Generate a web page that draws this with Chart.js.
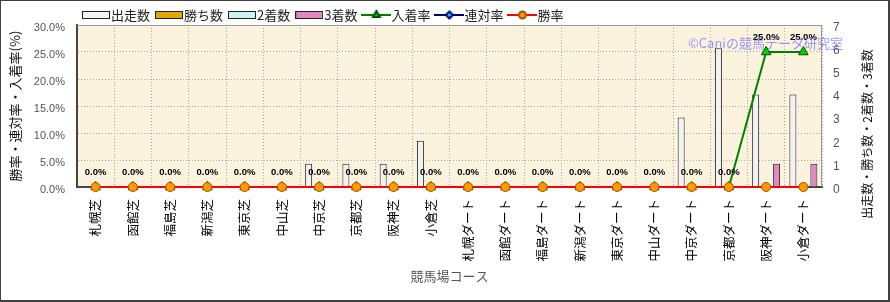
<!DOCTYPE html>
<html>
<head>
<meta charset="utf-8">
<script src="https://cdn.jsdelivr.net/npm/chart.js@4.4.0/dist/chart.umd.min.js"></script>
<style>
  html, body { margin: 0; padding: 0; background: #fff; }
  #frame { position: relative; width: 890px; height: 302px; box-sizing: border-box;
           border-style: solid; border-color: #404040; border-width: 1px 2px 2px 1px; }
  #wrap { position: absolute; left: 0; top: 0; width: 887px; height: 299px; }
  #mark { position: absolute; left: 687px; top: 34px; font: 13px 'Noto Sans CJK JP';
          line-height: 15px; color: rgba(110, 110, 255, 0.7); white-space: nowrap; }
</style>
</head>
<body>
<div id="frame">
  <div id="wrap"><canvas id="mycanvas"></canvas></div>
  <div id="mark">©Caniの競馬データ研究室</div>
</div>
<script>
// courses (x axis)
var courses = ['札幌芝', '函館芝', '福島芝', '新潟芝', '東京芝', '中山芝', '中京芝', '京都芝', '阪神芝', '小倉芝',
               '札幌ダート', '函館ダート', '福島ダート', '新潟ダート', '東京ダート', '中山ダート', '中京ダート', '京都ダート', '阪神ダート', '小倉ダート'];

// counts (right axis)
var starts  = [0, 0, 0, 0, 0, 0, 1, 1, 1, 2, 0, 0, 0, 0, 0, 0, 3, 6, 4, 4];
var wins    = [0, 0, 0, 0, 0, 0, 0, 0, 0, 0, 0, 0, 0, 0, 0, 0, 0, 0, 0, 0];
var seconds = [0, 0, 0, 0, 0, 0, 0, 0, 0, 0, 0, 0, 0, 0, 0, 0, 0, 0, 0, 0];
var thirds  = [0, 0, 0, 0, 0, 0, 0, 0, 0, 0, 0, 0, 0, 0, 0, 0, 0, 0, 1, 1];

// rates in % (left axis)
var placeRate   = [0, 0, 0, 0, 0, 0, 0, 0, 0, 0, 0, 0, 0, 0, 0, 0, 0, 0, 25, 25];
var rentaiRate  = [0, 0, 0, 0, 0, 0, 0, 0, 0, 0, 0, 0, 0, 0, 0, 0, 0, 0, 0, 0];
var winRate     = [0, 0, 0, 0, 0, 0, 0, 0, 0, 0, 0, 0, 0, 0, 0, 0, 0, 0, 0, 0];

var leftTitle  = '勝率・連対率・入着率(%)';
var rightTitle = '出走数・勝ち数・2着数・3着数';
var xTitle     = '競馬場コース';

var jp = "'Noto Sans CJK JP'";

// small legend icons
function legendBox(fill) {
  var c = document.createElement('canvas');
  c.width = 28; c.height = 8;
  var g = c.getContext('2d');
  g.fillStyle = fill;
  g.fillRect(1, 1, 26, 6);
  g.strokeStyle = '#222';
  g.lineWidth = 1;
  g.strokeRect(0.5, 0.5, 27, 7);
  return c;
}
function legendLine(color, style, fill, border, r) {
  var c = document.createElement('canvas');
  c.width = 30; c.height = 12;
  var g = c.getContext('2d');
  g.strokeStyle = color; g.lineWidth = 2;
  g.beginPath(); g.moveTo(0, 6); g.lineTo(30, 6); g.stroke();
  g.fillStyle = fill; g.strokeStyle = border;
  Chart.helpers.drawPoint(g, {pointStyle: style, radius: r, borderWidth: 1, rotation: 0}, 15, 6);
  return c;
}

var icons = [
  legendBox('#f4f4f4'),
  legendBox('#e0a800'),
  legendBox('#c8f4f4'),
  legendBox('#e088c0'),
  legendLine('#008000', 'triangle', '#00d000', '#005000', 4),
  legendLine('#000080', 'rectRot', '#00e0e0', '#000080', 3.5),
  legendLine('#ff0000', 'circle', '#ff9900', '#a05000', 3.5)
];

function barSet(label, data, fill) {
  return {
    type: 'bar', label: label, data: data, yAxisID: 'y1', order: 10,
    backgroundColor: fill, borderColor: '#222',
    borderWidth: function(c) { return c.raw === 0 ? 0 : 1; },
    categoryPercentage: 0.75, barPercentage: 1
  };
}

// cream plot background + light frame on top/right
var plotBg = {
  id: 'plotBg',
  beforeDraw: function(chart) {
    var a = chart.chartArea, ctx = chart.ctx;
    ctx.save();
    ctx.fillStyle = '#fcf3df';
    ctx.fillRect(a.left, a.top, a.right - a.left, a.bottom - a.top);
    ctx.restore();
  },
  beforeDatasetsDraw: function(chart) {
    var a = chart.chartArea, ctx = chart.ctx;
    ctx.save();
    ctx.strokeStyle = '#9a9a9a';
    ctx.lineWidth = 1;
    ctx.beginPath();
    ctx.moveTo(a.left, a.top + 0.5); ctx.lineTo(a.right - 0.5, a.top + 0.5); ctx.lineTo(a.right - 0.5, a.bottom);
    ctx.stroke();
    ctx.restore();
  }
};

// "0.0%" labels over the 入着率 points
var pointLabels = {
  id: 'pointLabels',
  afterDatasetsDraw: function(chart) {
    var meta = chart.getDatasetMeta(4), ctx = chart.ctx;
    ctx.save();
    ctx.font = "bold 9.5px 'Liberation Sans'";
    ctx.fillStyle = '#000';
    ctx.textAlign = 'center';
    ctx.textBaseline = 'middle';
    meta.data.forEach(function(el, i) {
      ctx.fillText(placeRate[i].toFixed(1) + '%', el.x, el.y - 15);
    });
    ctx.restore();
  }
};

// right axis title reads bottom-to-top like the left one
var rightTitlePlugin = {
  id: 'rightTitle',
  afterDraw: function(chart) {
    var s = chart.scales.y1, ctx = chart.ctx;
    ctx.save();
    ctx.translate(s.right - 21, (s.top + s.bottom) / 2 + 28);
    ctx.rotate(-Math.PI / 2);
    ctx.font = '12px ' + jp;
    ctx.fillStyle = '#111';
    ctx.textAlign = 'center';
    ctx.textBaseline = 'middle';
    ctx.fillText(rightTitle, 0, 0);
    ctx.restore();
  }
};

var chartdata = {
  labels: courses,
  datasets: [
    barSet('出走数', starts, '#f2f2f2'),
    barSet('勝ち数', wins, '#e0a800'),
    barSet('2着数', seconds, '#c8f4f4'),
    barSet('3着数', thirds, '#e088c0'),
    {
      type: 'line', label: '入着率', data: placeRate, yAxisID: 'y', order: 3, clip: false,
      borderColor: '#008000', borderWidth: 2, pointStyle: 'triangle', pointRadius: 5.5,
      pointBackgroundColor: '#00d000', pointBorderColor: '#005000', pointBorderWidth: 1, tension: 0
    },
    {
      type: 'line', label: '連対率', data: rentaiRate, yAxisID: 'y', order: 2, clip: false,
      borderColor: '#000080', borderWidth: 2, pointStyle: 'rectRot', pointRadius: 4,
      pointBackgroundColor: '#00e0e0', pointBorderColor: '#000080', pointBorderWidth: 1, tension: 0
    },
    {
      type: 'line', label: '勝率', data: winRate, yAxisID: 'y', order: 1, clip: false,
      borderColor: '#ff0000', borderWidth: 2, pointStyle: 'circle', pointRadius: 4.5,
      pointBackgroundColor: '#ff9900', pointBorderColor: '#a05000', pointBorderWidth: 1, tension: 0
    }
  ]
};

var ctx = document.getElementById('mycanvas').getContext('2d');

var myChart = new Chart(ctx, {
  type: 'bar',
  data: chartdata,
  plugins: [plotBg, pointLabels, rightTitlePlugin],
  options: {
    responsive: true,
    maintainAspectRatio: false,
    animation: false,
    layout: { padding: { top: -3, left: 0, right: 0, bottom: 0 } },
    plugins: {
      tooltip: { enabled: false },
      legend: {
        position: 'top',
        align: 'start',
        fullSize: false,
        maxHeight: 27,
        labels: {
          usePointStyle: true,
          pointStyleWidth: 17,
          padding: 10.5,
          color: '#222',
          font: { family: jp, size: 13 },
          generateLabels: function(chart) {
            return chart.data.datasets.map(function(ds, i) {
              return {
                text: ds.label, pointStyle: icons[i], datasetIndex: i, hidden: false,
                fontColor: '#222', lineWidth: 0, strokeStyle: 'rgba(0,0,0,0)', fillStyle: 'rgba(0,0,0,0)'
              };
            });
          }
        }
      }
    },
    scales: {
      x: {
        type: 'category',
        offset: true,
        afterFit: function(s) { s.height = 113; },
        grid: { offset: true, color: '#a8a8a8', drawTicks: false },
        border: { color: '#444', width: 2, dash: [1, 2] },
        ticks: {
          autoSkip: false, minRotation: 90, maxRotation: 90, padding: 12,
          color: '#000', font: { family: jp, size: 12.5 }
        },
        title: { display: true, text: xTitle, color: '#555', font: { family: jp, size: 13 }, padding: { bottom: 16 } }
      },
      y: {
        position: 'left',
        min: 0, max: 30,
        afterFit: function(s) { s.width = 76; },
        grid: { color: '#a8a8a8', drawTicks: false },
        border: { color: '#444', width: 2, dash: [1, 2] },
        ticks: {
          stepSize: 5, padding: 12, labelOffset: 2.5, color: '#555',
          font: { family: "'Liberation Sans'", size: 11 },
          callback: function(v) { return v.toFixed(1) + '%'; }
        },
        title: { display: true, text: leftTitle, color: '#111', font: { family: jp, size: 13 }, padding: { top: 6 } }
      },
      y1: {
        position: 'right',
        min: 0, max: 7,
        afterFit: function(s) { s.width = 66; },
        grid: { drawOnChartArea: false, drawTicks: false },
        border: { display: false },
        ticks: { stepSize: 1, padding: 11, labelOffset: 2.5, color: '#555', font: { family: "'Liberation Sans'", size: 12 } }
      }
    }
  }
});
</script>
</body>
</html>
